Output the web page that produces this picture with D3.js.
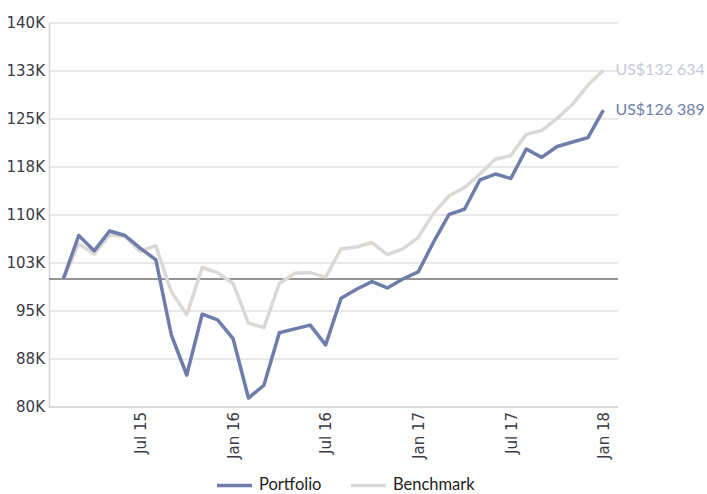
<!DOCTYPE html>
<html>
<head>
<meta charset="utf-8">
<script src="https://cdn.jsdelivr.net/npm/d3@7"></script>
<style>
  body { margin: 0; background: #fff; }
  svg { display: block; }
</style>
</head>
<body>
<script>
// Portfolio vs Benchmark growth of US$100 000, monthly Feb 15 - Jan 18

const months = [
  "Feb 15","Mar 15","Apr 15","May 15","Jun 15","Jul 15","Aug 15","Sep 15","Oct 15","Nov 15","Dec 15",
  "Jan 16","Feb 16","Mar 16","Apr 16","May 16","Jun 16","Jul 16","Aug 16","Sep 16","Oct 16","Nov 16","Dec 16",
  "Jan 17","Feb 17","Mar 17","Apr 17","May 17","Jun 17","Jul 17","Aug 17","Sep 17","Oct 17","Nov 17","Dec 17",
  "Jan 18"
];

const portfolio = [
  100000, 106800, 104400, 107500, 106800, 104800, 103000, 91250, 85000, 94500, 93600,
  90700, 81400, 83400, 91600, 92200, 92800, 89700, 97000, 98400, 99600, 98600, 100000,
  101100, 105800, 110100, 110900, 115500, 116400, 115700, 120300, 119000, 120700, 121400, 122100,
  126389
];

const benchmark = [
  100000, 105500, 103900, 106900, 106600, 104300, 105200, 98000, 94400, 101800, 101000,
  99300, 93100, 92400, 99300, 100900, 101000, 100300, 104700, 105000, 105700, 103800, 104700,
  106500, 110300, 113000, 114300, 116400, 118700, 119300, 122600, 123200, 125100, 127300, 130300,
  132634
];

const xTicks = ["Jul 15", "Jan 16", "Jul 16", "Jan 17", "Jul 17", "Jan 18"];
const yTicks = [80000, 87500, 95000, 102500, 110000, 117500, 125000, 132500, 140000];
const startValue = 100000;
const endLabels = ["US$126 389", "US$132 634"];

const seriesNames = ["Portfolio", "Benchmark"];
const colors = ["#6e7daa", "#dbd8d5"];
const labelColors = ["#6e7daa", "#c6cad8"];

var width = 707, height = 494;
var plot = {left: 49, right: 618, top: 23, bottom: 407};

var svg = d3.select("body").append("svg")
    .attr("width", width)
    .attr("height", height);

const xScale = d3.scalePoint()
    .domain(months)
    .range([63.3, 603.4]);

const yScale = d3.scaleLinear()
    .domain([80000, 140000])
    .range([plot.bottom, plot.top]);

// gridlines
svg.append("g")
  .selectAll("line")
  .data(yTicks)
  .enter().append("line")
    .attr("x1", plot.left)
    .attr("x2", plot.right)
    .attr("y1", d => yScale(d))
    .attr("y2", d => yScale(d))
    .attr("stroke", "#d4d4d4")
    .attr("stroke-width", 1.2);

// y axis
const yAxis = d3.axisLeft(yScale)
    .tickValues(yTicks)
    .tickSize(0)
    .tickPadding(4)
    .tickFormat(d => Math.round(d / 1000) + "K");

const yg = svg.append("g")
    .attr("transform", `translate(${plot.left},0)`)
    .call(yAxis);
yg.select(".domain").attr("stroke", "#d4d4d4").attr("stroke-width", 1.5);
yg.selectAll("text")
    .attr("font-family", "DejaVu Sans")
    .attr("font-size", 15)
    .attr("fill", "#3a3a45");

// x axis
const xAxis = d3.axisBottom(xScale)
    .tickValues(xTicks)
    .tickSize(0);

const xg = svg.append("g")
    .attr("transform", `translate(0,${plot.bottom})`)
    .call(xAxis);
xg.select(".domain")
    .attr("d", `M${plot.left},0H${plot.right}`)
    .attr("stroke", "#d4d4d4")
    .attr("stroke-width", 1.5);
xg.selectAll("text")
    .attr("font-family", "DejaVu Sans")
    .attr("font-size", 15)
    .attr("fill", "#3a3a45")
    .attr("text-anchor", "end")
    .attr("transform", "rotate(-90)")
    .attr("x", -5)
    .attr("y", 0)
    .attr("dy", "0.35em");

// 100K reference line
svg.append("line")
    .attr("x1", plot.left)
    .attr("x2", plot.right)
    .attr("y1", yScale(startValue))
    .attr("y2", yScale(startValue))
    .attr("stroke", "#707070")
    .attr("stroke-width", 1.6);

const line = d3.line()
    .x((d, i) => xScale(months[i]))
    .y(d => yScale(d));

// benchmark first so portfolio sits on top
[benchmark, portfolio].forEach(series => {
    const idx = series === portfolio ? 0 : 1;
    svg.append("path")
        .datum(series)
        .attr("fill", "none")
        .attr("stroke", colors[idx])
        .attr("stroke-width", 3.5)
        .attr("stroke-linejoin", "round")
        .attr("d", line);

    svg.append("text")
        .attr("x", xScale(months[months.length - 1]) + 12)
        .attr("y", yScale(series[series.length - 1]))
        .attr("dy", "0.33em")
        .attr("font-family", "Lato")
        .attr("font-size", 16)
        .attr("fill", labelColors[idx])
        .text(endLabels[idx]);
});

// legend
const legendX = [217, 351];
seriesNames.forEach((name, i) => {
    svg.append("line")
        .attr("x1", legendX[i])
        .attr("x2", legendX[i] + 35)
        .attr("y1", 485.5)
        .attr("y2", 485.5)
        .attr("stroke", colors[i])
        .attr("stroke-width", 3.5);
    svg.append("text")
        .attr("x", legendX[i] + 42)
        .attr("y", 490)
        .attr("font-family", "Lato")
        .attr("font-size", 16.5)
        .attr("fill", "#222")
        .text(name);
});
</script>
</body>
</html>
